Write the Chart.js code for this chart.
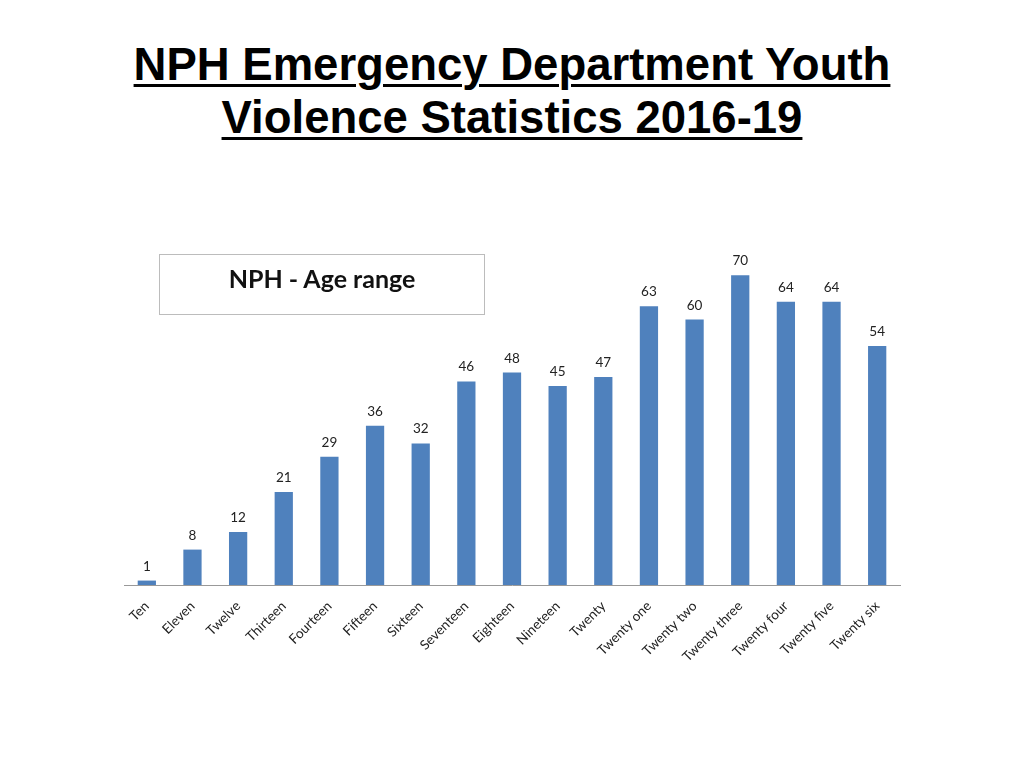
<!DOCTYPE html>
<html>
<head>
<meta charset="utf-8">
<script src="https://cdn.jsdelivr.net/npm/chart.js@4/dist/chart.umd.min.js"></script>
<style>
  body { margin: 0; background: #fff; }
  #wrap { position: relative; width: 1024px; height: 768px; overflow: hidden; }
  #title {
    position: absolute; left: 0; top: 38px; width: 1024px; text-align: center;
    font: bold 45.5px "Liberation Sans", Arial, sans-serif; line-height: 53px;
    color: #000; text-decoration: underline; text-decoration-thickness: 3px;
    text-underline-offset: 4px;
  }
  #box {
    position: absolute; left: 159px; top: 254px; width: 326px; height: 61px;
    border: 1px solid #bcbcbc; box-sizing: border-box;
    font: bold 25px Lato, "Open Sans", sans-serif; color: #111;
    text-align: center; line-height: 46px;
  }
  canvas { position: absolute; left: 0; top: 0; }
</style>
</head>
<body>
<div id="wrap">
  <div id="title">NPH Emergency Department Youth<br>Violence Statistics 2016-19</div>
  <canvas id="ageChart" width="1024" height="768"></canvas>
  <div id="box">NPH - Age range</div>
</div>
<script>
// Age categories and counts
const ages = ["Ten", "Eleven", "Twelve", "Thirteen", "Fourteen", "Fifteen", "Sixteen",
  "Seventeen", "Eighteen", "Nineteen", "Twenty", "Twenty one", "Twenty two",
  "Twenty three", "Twenty four", "Twenty five", "Twenty six"];
const counts = [1, 8, 12, 21, 29, 36, 32, 46, 48, 45, 47, 63, 60, 70, 64, 64, 54];

// value labels on top of each bar
const valueLabels = {
  id: "valueLabels",
  afterDatasetsDraw(chart) {
    const ctx = chart.ctx;
    const meta = chart.getDatasetMeta(0);
    ctx.save();
    ctx.font = "13.5px Lato, 'Open Sans', sans-serif";
    ctx.fillStyle = "#222";
    ctx.textAlign = "center";
    ctx.textBaseline = "alphabetic";
    meta.data.forEach((bar, i) => {
      ctx.fillText(counts[i], bar.x, bar.y - 10);
    });
    ctx.restore();
  },
};

const ctx = document.getElementById("ageChart").getContext("2d");
new Chart(ctx, {
  type: "bar",
  data: {
    labels: ages,
    datasets: [
      {
        data: counts,
        backgroundColor: "#4F81BD",
        barPercentage: 0.4,
        categoryPercentage: 1,
      },
    ],
  },
  options: {
    responsive: false,
    animation: false,
    layout: { padding: { left: 124, right: 124, top: 231, bottom: 0 } },
    plugins: { legend: { display: false }, tooltip: { enabled: false } },
    scales: {
      y: { display: false, min: 0, max: 80 },
      x: {
        grid: { display: false },
        border: { color: "#999", width: 1 },
        ticks: {
          minRotation: 45,
          maxRotation: 45,
          padding: 5,
          color: "#222",
          font: { family: "Lato, 'Open Sans', sans-serif", size: 13.5 },
        },
        afterFit(scale) {
          scale.height = 183;
        },
      },
    },
  },
  plugins: [valueLabels],
});
</script>
</body>
</html>
